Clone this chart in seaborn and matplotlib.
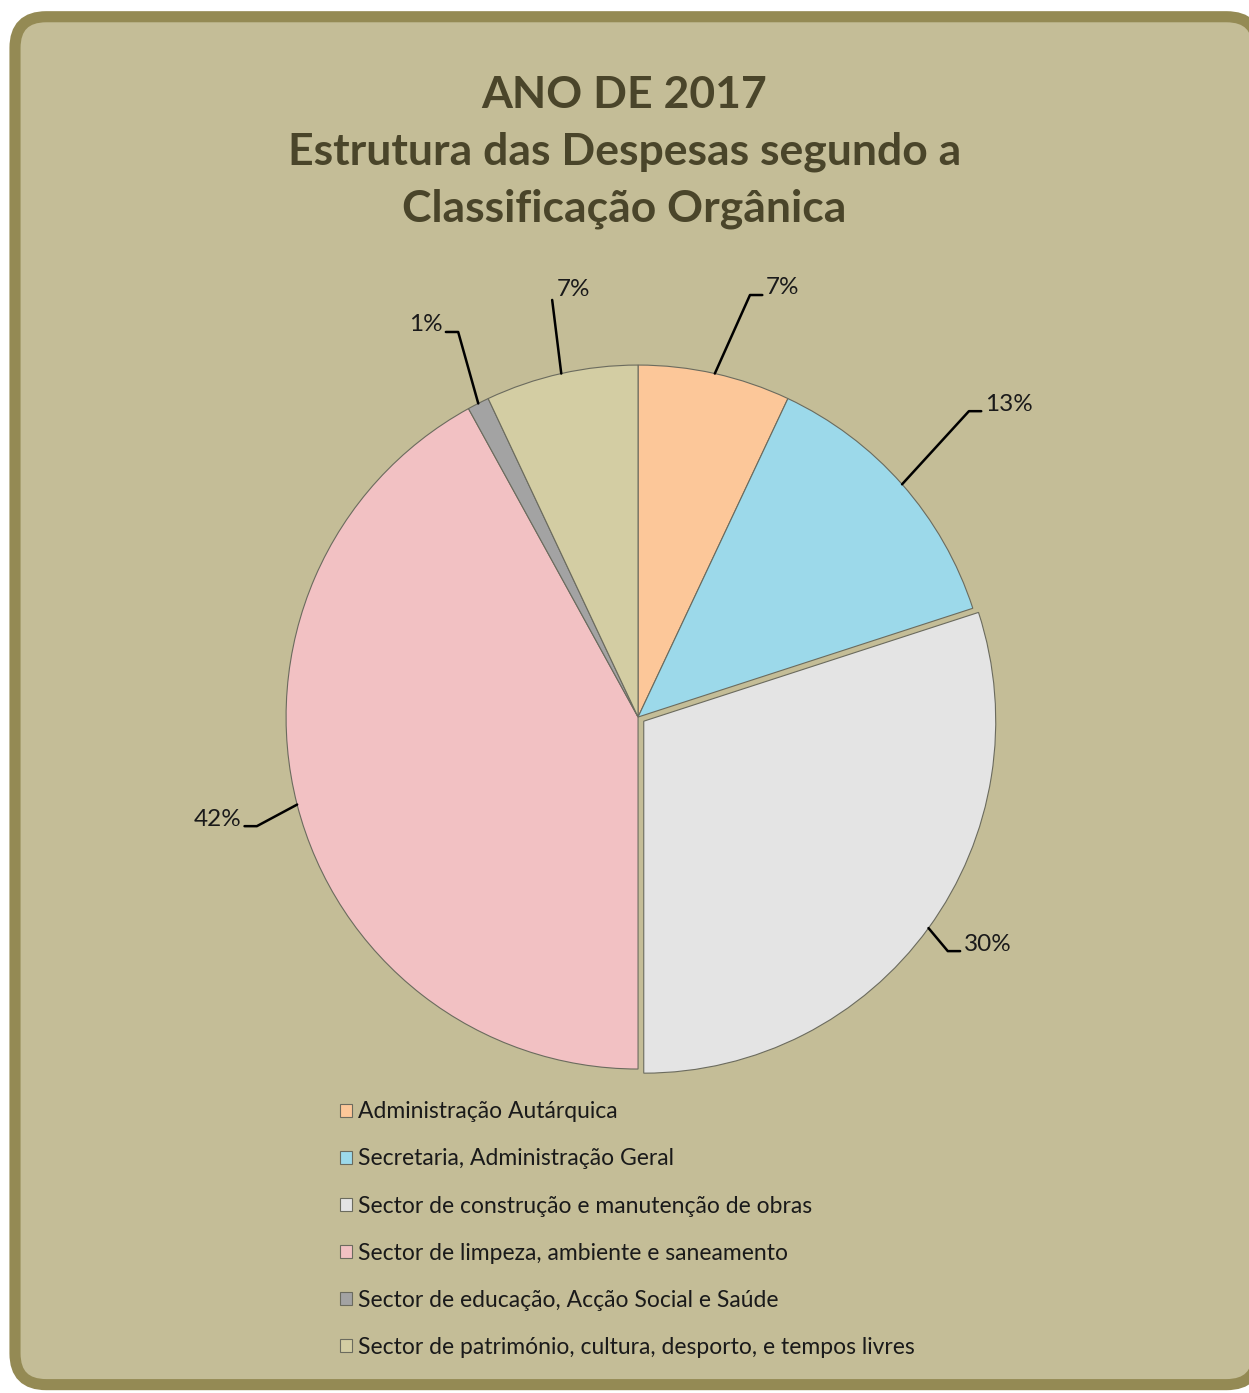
import numpy as np
import matplotlib
matplotlib.use("Agg")
import matplotlib.pyplot as plt
from matplotlib.patches import FancyBboxPatch
import seaborn as sns

# data
categories = [
    "Administração Autárquica",
    "Secretaria, Administração Geral",
    "Sector de construção e manutenção de obras",
    "Sector de limpeza, ambiente e saneamento",
    "Sector de educação, Acção Social e Saúde",
    "Sector de património, cultura, desporto, e tempos livres",
]
shares = [7, 13, 30, 42, 1, 7]
pct_labels = ["7%", "13%", "30%", "42%", "1%", "7%"]
slice_colors = ["#FCC799", "#9CD9EA", "#E4E4E4", "#F2C1C3", "#A3A3A3", "#D3CDA3"]
explode = [0, 0, 0.02, 0, 0, 0]

title = "ANO DE 2017\nEstrutura das Despesas segundo a\nClassificação Orgânica"

sns.set_theme(style="white")
plt.rcParams["font.family"] = ["Lato", "DejaVu Sans"]

bg = "#C4BD97"
frame = "#948A54"
title_col = "#4A452A"

fig = plt.figure(figsize=(12.49, 13.93), dpi=100)
fig.patch.set_facecolor("white")

box = FancyBboxPatch((0.012, 0.006), 0.995, 0.982,
                     boxstyle="round,pad=0,rounding_size=0.025",
                     transform=fig.transFigure, facecolor=bg,
                     edgecolor=frame, linewidth=8, zorder=-10,
                     mutation_aspect=1249 / 1393)
fig.patches.append(box)

fig.text(0.5, 0.946, title, ha="center", va="top", fontsize=32,
         fontweight="bold", color=title_col, linespacing=1.5)

ax = fig.add_axes([0.1163, 0.1315, 0.7891, 0.7075])
ax.set_facecolor("none")
ax.set_zorder(2)
wedges, _ = ax.pie(shares, colors=slice_colors, startangle=90,
                   counterclock=False, explode=explode, radius=1,
                   wedgeprops=dict(edgecolor="#6b6b5e", linewidth=0.8))
ax.set_xlim(-1.4, 1.4)
ax.set_ylim(-1.4, 1.4)
ax.set_aspect("equal")
ax.axis("off")

# leader-line elbows (layout, in radius units) and which side text sits
elbows = [(0.318, 1.199), (0.94, 0.869), (0.88, -0.665),
          (-1.083, -0.31), (-0.511, 1.094), (-0.244, 1.185)]
sides = [1, 1, 1, -1, -1, 0]

for w, lab, (ex, ey), side in zip(wedges, pct_labels, elbows, sides):
    mid = np.deg2rad((w.theta1 + w.theta2) / 2)
    cx, cy = w.center
    px, py = cx + w.r * np.cos(mid), cy + w.r * np.sin(mid)
    if side == 0:
        ax.plot([px, ex], [py, ey], color="black", lw=1.8, clip_on=False)
        ax.text(ex + 0.012, ey + 0.0, lab, ha="left", va="bottom",
                fontsize=17.5, color="#1a1a1a")
    else:
        hx = ex + side * 0.035
        ax.plot([px, ex, hx], [py, ey, ey], color="black", lw=1.8,
                clip_on=False)
        ax.text(hx + side * 0.01, ey + 0.02, lab,
                ha="left" if side > 0 else "right", va="center",
                fontsize=17.5, color="#1a1a1a")

leg = fig.legend(wedges, categories, loc="upper left",
                 bbox_to_anchor=(0.265, 0.216), frameon=False,
                 fontsize=16.5, handlelength=0.5, handleheight=0.5,
                 handletextpad=0.3, labelspacing=1.14, borderaxespad=0)
for t in leg.get_texts():
    t.set_color("#1a1a1a")

fig.savefig("out.png", dpi=100, facecolor=fig.get_facecolor())
